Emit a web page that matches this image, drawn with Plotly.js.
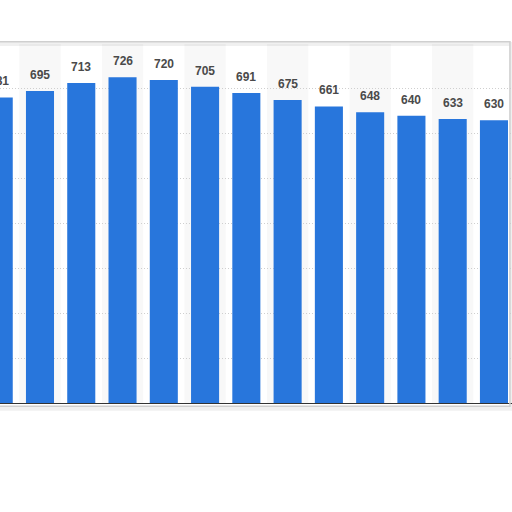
<!DOCTYPE html>
<html>
<head>
<meta charset="utf-8">
<script src="https://cdn.plot.ly/plotly-3.0.1.min.js"></script>
<style>
  html, body { margin: 0; padding: 0; background: #fff; }
  #plot { width: 512px; height: 512px; }
</style>
</head>
<body>
<div id="plot"></div>
<script>
// the picture is a crop: the first bar is cut at the left edge and
// the category labels are below the visible area, so positions only
let positions = [0, 1, 2, 3, 4, 5, 6, 7, 8, 9, 10, 11, 12];
let values = [681, 695, 713, 726, 720, 705, 691, 675, 661, 648, 640, 633, 630];
let valueLabels = values.map(v => String(v));

let barColor = '#2876dc';
let xRange = [0.031, 12.437];

// alternating column background, every other category light grey
let shapes = [];
positions.forEach((p, i) => {
  if (i % 2 === 1) {
    shapes.push({
      type: 'rect', xref: 'x', yref: 'paper', layer: 'below',
      x0: p - 0.5, x1: p + 0.5, y0: 0, y1: 1,
      fillcolor: '#f8f8f8', line: {width: 0}
    });
  }
});

// frame round the plot, with a soft shadow
shapes.push({
  type: 'rect', xref: 'paper', yref: 'paper', layer: 'above',
  x0: -0.05, x1: 0.999, y0: -0.016, y1: 1.0,
  fillcolor: 'rgba(0,0,0,0)', line: {color: 'rgba(0,0,0,0.06)', width: 4}
});
shapes.push({
  type: 'rect', xref: 'paper', yref: 'paper', layer: 'above',
  x0: -0.05, x1: 0.996, y0: -0.009, y1: 1.006,
  fillcolor: 'rgba(0,0,0,0)', line: {color: '#cfcfcf', width: 1.5}
});

// value labels go in paper x so the cut-off first one still shows
let annotations = positions.map((p, i) => ({
  x: (p - xRange[0]) / (xRange[1] - xRange[0]), y: values[i],
  xref: 'paper', yref: 'y',
  xanchor: 'center',
  text: valueLabels[i], showarrow: false,
  yanchor: 'bottom', yshift: 7,
  font: {family: 'Liberation Sans, Arial, sans-serif', size: 12, color: '#4a4a4a', weight: 'bold'}
}));

let trace = {
  type: 'bar',
  x: positions,
  y: values,
  width: 0.68,
  marker: {color: barColor},
  hoverinfo: 'skip'
};

let layout = {
  width: 512,
  height: 512,
  margin: {l: 0, r: 0, t: 44, b: 109, pad: 0},
  paper_bgcolor: '#ffffff',
  plot_bgcolor: 'rgba(0,0,0,0)',
  showlegend: false,
  xaxis: {
    range: xRange,
    showticklabels: false,
    showgrid: false,
    zeroline: false,
    showline: true,
    linecolor: '#333',
    linewidth: 1,
    ticks: ''
  },
  yaxis: {
    range: [0, 800],
    tickvals: [100, 200, 300, 400, 500, 600, 700],
    showticklabels: false,
    showgrid: true,
    gridcolor: '#cfcfcf',
    griddash: '1px,2px',
    gridwidth: 1,
    zeroline: false,
    ticks: ''
  },
  shapes: shapes,
  annotations: annotations
};

Plotly.newPlot('plot', [trace], layout, {staticPlot: true, displayModeBar: false});
</script>
</body>
</html>
